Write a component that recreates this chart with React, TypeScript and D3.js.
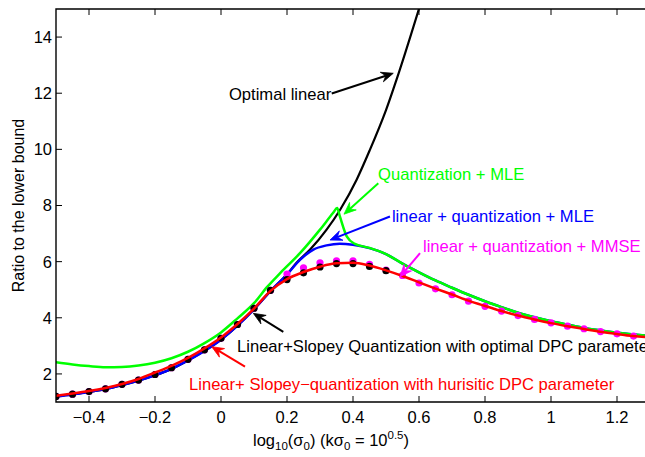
import React from "react";
import * as d3 from "d3";

// ---- data ----
const xTicks = [-0.4, -0.2, 0, 0.2, 0.4, 0.6, 0.8, 1, 1.2];
const xTickLabels = ["−0.4", "−0.2", "0", "0.2", "0.4", "0.6", "0.8", "1", "1.2"];
const yTicks = [2, 4, 6, 8, 10, 12, 14];
const yTickLabels = ["2", "4", "6", "8", "10", "12", "14"];

const dotX = [-0.5, -0.45, -0.4, -0.35, -0.3, -0.25, -0.2, -0.15, -0.1, -0.05, 0, 0.05, 0.1, 0.15, 0.2, 0.25, 0.3, 0.35,
  0.4, 0.45, 0.5, 0.55, 0.6, 0.65, 0.7, 0.75, 0.8, 0.85, 0.9, 0.95, 1.0, 1.05, 1.1, 1.15, 1.2, 1.25];
const mmseDots = [1.2, 1.28, 1.37, 1.47, 1.63, 1.78, 1.98, 2.22, 2.52, 2.86, 3.27, 3.76, 4.34, 4.98, 5.56, 5.78, 5.96, 6.03,
  6.03, 5.9, 5.7, 5.51, 5.24, 5.03, 4.82, 4.59, 4.41, 4.24, 4.08, 3.94, 3.82, 3.7, 3.61, 3.51, 3.43, 3.35];
const optDpcDots = [1.2, 1.28, 1.37, 1.47, 1.63, 1.78, 1.98, 2.22, 2.52, 2.86, 3.27, 3.76, 4.34, 4.98, 5.36, 5.6, 5.81, 5.93,
  5.93, 5.83, 5.68];

const redX = [-0.5, -0.45, -0.4, -0.35, -0.3, -0.25, -0.2, -0.15, -0.1, -0.05, 0, 0.05, 0.1, 0.15, 0.2, 0.25, 0.3, 0.35, 0.4,
  0.45, 0.5, 0.55, 0.6, 0.65, 0.7, 0.75, 0.8, 0.85, 0.9, 0.95, 1.0, 1.05, 1.1, 1.15, 1.2, 1.25, 1.29];
const redY = [1.22, 1.3, 1.39, 1.5, 1.64, 1.82, 2.05, 2.29, 2.57, 2.91, 3.3, 3.78, 4.33, 4.96, 5.38, 5.63, 5.82, 5.94, 5.96,
  5.86, 5.69, 5.49, 5.26, 5.04, 4.83, 4.61, 4.42, 4.24, 4.08, 3.94, 3.81, 3.7, 3.6, 3.5, 3.42, 3.35, 3.31];

const blueX = [-0.5, -0.45, -0.4, -0.35, -0.3, -0.25, -0.2, -0.15, -0.1, -0.05, 0, 0.05, 0.1, 0.15, 0.2, 0.24, 0.28, 0.32,
  0.36, 0.4, 0.45, 0.5, 0.55, 0.6, 0.65, 0.7, 0.75, 0.8, 0.85, 0.9, 0.95, 1.0, 1.05, 1.1, 1.15, 1.2, 1.29];
const blueY = [1.2, 1.27, 1.36, 1.46, 1.6, 1.76, 1.95, 2.18, 2.48, 2.82, 3.22, 3.72, 4.3, 4.95, 5.54, 6.07, 6.43, 6.58,
  6.64, 6.6, 6.48, 6.27, 5.93, 5.62, 5.33, 5.07, 4.82, 4.59, 4.38, 4.18, 4.02, 3.88, 3.76, 3.64, 3.55, 3.47, 3.36];

const greenX = [-0.5, -0.45, -0.4, -0.35, -0.3, -0.25, -0.2, -0.15, -0.1, -0.05, 0, 0.05, 0.1, 0.14, 0.18, 0.24, 0.3, 0.34,
  0.352, 0.36, 0.381, 0.406, 0.45, 0.5, 0.55, 0.6, 0.65, 0.7, 0.75, 0.8, 0.85, 0.9, 0.95, 1.0, 1.05, 1.1, 1.15, 1.2, 1.29];
const greenY = [2.42, 2.34, 2.28, 2.24, 2.25, 2.3, 2.4, 2.56, 2.79, 3.1, 3.48, 3.98, 4.52, 5.1, 5.6, 6.31, 7.14, 7.74,
  7.91, 7.62, 6.9, 6.63, 6.49, 6.27, 5.93, 5.62, 5.33, 5.07, 4.82, 4.59, 4.38, 4.18, 4.02, 3.88, 3.76, 3.64, 3.55, 3.47, 3.36];

const blackX = [-0.5, -0.45, -0.4, -0.35, -0.3, -0.25, -0.2, -0.15, -0.1, -0.05, 0, 0.05, 0.1, 0.15, 0.2, 0.229, 0.27, 0.32,
  0.361, 0.411, 0.45, 0.5, 0.538, 0.605];
const blackY = [1.2, 1.27, 1.36, 1.46, 1.6, 1.76, 1.95, 2.18, 2.48, 2.82, 3.22, 3.72, 4.3, 4.95, 5.55, 5.96, 6.43, 7.14,
  7.85, 8.92, 9.95, 11.4, 12.7, 15.2];

// annotations (data units): label, colour, text position, arrow tail, arrow tip
const annLabels = [
  "Optimal linear",
  "Quantization + MLE",
  "linear + quantization + MLE",
  "linear + quantization + MMSE",
  "Linear+Slopey Quantization with optimal DPC parameter",
  "Linear+ Slopey−quantization with hurisitic DPC parameter",
];
const annColors = ["#000000", "#00ff00", "#0000ff", "#ff00ff", "#000000", "#ff0000"];
const annText = [[0.024, 11.76], [0.476, 8.91], [0.518, 7.41], [0.612, 6.34], [0.0485, 2.78], [-0.097, 1.43]];
const annTail = [[0.3355, 11.99], [0.4767, 8.79], [0.512, 7.61], [0.603, 6.3], [0.1888, 3.5], [0.0727, 2.26]];
const annTip = [[0.522, 12.71], [0.3727, 7.69], [0.3303, 6.77], [0.5424, 5.46], [0.0979, 4.16], [-0.0282, 2.97]];

const W = 645;
const H = 457;
const left = 56;
const top = 9;
const bottom = 402;
const xMin = -0.5;
const xMax = 1.29;
const FONT = "'Liberation Sans', Arial, Helvetica, sans-serif";

export default function App() {
  const x = d3.scaleLinear().domain([xMin, xMax]).range([left, left + (xMax - xMin) * 330]);
  const y = d3.scaleLinear().domain([1, 15]).range([bottom, top]);
  const right = x(xMax);

  const line = (xs: number[], ys: number[]) =>
    d3.line<number>().x((_, i) => x(xs[i])).y((_, i) => y(ys[i])).curve(d3.curveMonotoneX)(xs.map((_, i) => i)) || "";

  const arrow = (t: number[], p: number[]) => {
    const x1 = x(t[0]), y1 = y(t[1]), x2 = x(p[0]), y2 = y(p[1]);
    const dx = x2 - x1, dy = y2 - y1;
    const len = Math.hypot(dx, dy);
    const ux = dx / len, uy = dy / len;
    const nx = -uy, ny = ux;
    const L = 12, Wd = 5;
    const bx = x2 - L * ux, by = y2 - L * uy;
    const mx = x2 - 0.65 * L * ux, my = y2 - 0.65 * L * uy;
    const head = `M${x2},${y2}L${bx + Wd * nx},${by + Wd * ny}L${mx},${my}L${bx - Wd * nx},${by - Wd * ny}Z`;
    return { x1, y1, mx, my, head };
  };

  return (
    <svg width={W} height={H} style={{ position: "absolute", left: 0, top: 0, background: "#fff" }}
      fontFamily={FONT}>
      <defs>
        <clipPath id="plot">
          <rect x={left} y={top} width={right - left} height={bottom - top} />
        </clipPath>
      </defs>
      <rect x={0} y={0} width={W} height={H} fill="#fff" />
      <g clipPath="url(#plot)" fill="none" strokeLinejoin="round" strokeLinecap="round">
        <path d={line(blackX, blackY)} stroke="#000" strokeWidth={2.2} />
        <path d={line(blueX, blueY)} stroke="#0000ff" strokeWidth={2.5} />
        <path d={line(greenX, greenY)} stroke="#00ff00" strokeWidth={2.5} />
        {dotX.map((v, i) => (
          <circle key={"m" + i} cx={x(v)} cy={y(mmseDots[i])} r={3.6} fill="#ff00ff" />
        ))}
        {optDpcDots.map((v, i) => (
          <circle key={"b" + i} cx={x(dotX[i])} cy={y(v)} r={3.6} fill="#000" />
        ))}
        <path d={line(redX, redY)} stroke="#ff0000" strokeWidth={2.5} />
      </g>
      {/* axes box */}
      <path d={`M${left},${top}H${right}V${bottom}H${left}Z`} fill="none" stroke="#000" strokeWidth={1.4} />
      {xTicks.map((t, i) => (
        <g key={"xt" + i}>
          <line x1={x(t)} x2={x(t)} y1={bottom} y2={bottom - 6} stroke="#000" strokeWidth={1} />
          <line x1={x(t)} x2={x(t)} y1={top} y2={top + 6} stroke="#000" strokeWidth={1} />
          <text x={x(t)} y={423} textAnchor="middle" fontSize={16.5} fill="#000">{xTickLabels[i]}</text>
        </g>
      ))}
      {yTicks.map((t, i) => (
        <g key={"yt" + i}>
          <line x1={left} x2={left + 6} y1={y(t)} y2={y(t)} stroke="#000" strokeWidth={1} />
          <text x={52} y={y(t)} dy="0.36em" textAnchor="end" fontSize={16.5} fill="#000">{yTickLabels[i]}</text>
        </g>
      ))}
      {/* axis labels */}
      <text x={253} y={446} fontSize={16.5} fill="#000">
        log<tspan fontSize={11.5} dy={4}>10</tspan>
        <tspan dy={-4}>(σ</tspan>
        <tspan fontSize={11.5} dy={4}>0</tspan>
        <tspan dy={-4}>) (kσ</tspan>
        <tspan fontSize={11.5} dy={4}>0</tspan>
        <tspan dy={-4}> = 10</tspan>
        <tspan fontSize={11.5} dy={-7}>0.5</tspan>
        <tspan dy={7}>)</tspan>
      </text>
      <text transform={`translate(24,${(top + bottom) / 2}) rotate(-90)`} textAnchor="middle" fontSize={16} fill="#000">
        Ratio to the lower bound
      </text>
      {/* annotations */}
      {annLabels.map((lab, i) => {
        const a = arrow(annTail[i], annTip[i]);
        return (
          <g key={"a" + i}>
            <line x1={a.x1} y1={a.y1} x2={a.mx} y2={a.my} stroke={annColors[i]} strokeWidth={2} />
            <path d={a.head} fill={annColors[i]} stroke={annColors[i]} strokeWidth={0.8} strokeLinejoin="miter" />
            <text x={x(annText[i][0])} y={y(annText[i][1])} fontSize={16.6} fill={annColors[i]}>{lab}</text>
          </g>
        );
      })}
    </svg>
  );
}
